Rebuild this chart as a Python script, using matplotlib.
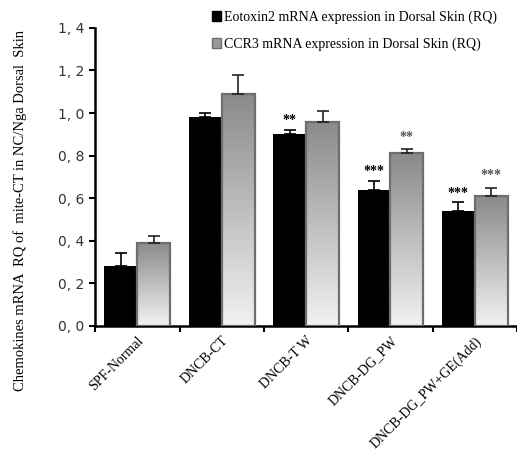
import numpy as np
import matplotlib.pyplot as plt
from matplotlib.patches import Patch
from matplotlib.colors import LinearSegmentedColormap

# data
groups = ['SPF-Normal', 'DNCB-CT', 'DNCB-T W', 'DNCB-DG_PW', 'DNCB-DG_PW+GE(Add)']
eotaxin = [0.28, 0.98, 0.90, 0.64, 0.54]
eotaxin_err = [0.06, 0.02, 0.02, 0.04, 0.04]
ccr3 = [0.39, 1.09, 0.96, 0.81, 0.61]
ccr3_err = [0.03, 0.09, 0.05, 0.02, 0.04]
eotaxin_sig = ['', '', '**', '***', '***']
ccr3_sig = ['', '', '', '**', '***']
yticks = [0.0, 0.2, 0.4, 0.6, 0.8, 1.0, 1.2, 1.4]

plt.rcParams['font.family'] = ['Liberation Serif', 'DejaVu Serif']

fig = plt.figure(figsize=(5.17, 4.57), dpi=100)
ax = fig.add_axes([0.184, 0.287, 0.816, 0.652])

x = np.arange(len(groups))
w = 0.39

b1 = ax.bar(x - w / 2, eotaxin, w, color='black', zorder=2)
ax.errorbar(x - w / 2, eotaxin, yerr=[np.zeros(len(x)), eotaxin_err], fmt='none',
            ecolor='black', elinewidth=1.2, capsize=4, capthick=1.2, zorder=3)

b2 = ax.bar(x + w / 2, ccr3, w, facecolor='none', edgecolor='#6e6e6e', linewidth=1.6, zorder=3)
ax.errorbar(x + w / 2, ccr3, yerr=[np.zeros(len(x)), ccr3_err], fmt='none',
            ecolor='#222222', elinewidth=1.2, capsize=4, capthick=1.2, zorder=3)

# vertical gradient inside each grey bar (dark at top, light at bottom)
cmap = LinearSegmentedColormap.from_list('g', ['#f2f2f2', '#8a8a8a'])
grad = np.linspace(0, 1, 256).reshape(-1, 1)
for rect in b2:
    x0, y0 = rect.get_x(), rect.get_y()
    im = ax.imshow(grad, cmap=cmap, aspect='auto', origin='lower',
                   extent=[x0, x0 + rect.get_width(), y0, y0 + rect.get_height()], zorder=2)
    im.set_clip_path(rect)

for i in range(len(groups)):
    if eotaxin_sig[i]:
        ax.annotate(eotaxin_sig[i], (x[i] - w / 2, eotaxin[i] + eotaxin_err[i]),
                    xytext=(0, 2), textcoords='offset points', ha='center', va='bottom',
                    fontsize=10, fontweight='bold', color='black')
    if ccr3_sig[i]:
        ax.annotate(ccr3_sig[i], (x[i] + w / 2, ccr3[i] + ccr3_err[i]),
                    xytext=(0, 4), textcoords='offset points', ha='center', va='bottom',
                    fontsize=10, fontweight='bold', color='#555555')

ax.set_xlim(-0.5, len(groups) - 0.5)
ax.set_ylim(0, 1.4)
ax.set_yticks(yticks)
ax.set_yticklabels([f'{v:.1f}'.replace('.', ', ') for v in yticks],
                   fontfamily='DejaVu Sans', fontsize=10, color='#333333')
ax.set_xticks(x)
ax.set_xticklabels(groups, rotation=45, ha='right', rotation_mode='anchor', fontsize=10)
ax.set_xticks(np.arange(len(groups) + 1) - 0.5, minor=True)
ax.tick_params(axis='x', which='major', length=0, pad=6)
ax.tick_params(axis='x', which='minor', length=4, width=1.5, direction='out')
ax.tick_params(axis='y', length=4, width=1.5, direction='out')

for s in ['top', 'right']:
    ax.spines[s].set_visible(False)
ax.spines['left'].set_linewidth(1.8)
ax.spines['bottom'].set_linewidth(1.8)

ax.set_ylabel('Chemokines mRNA  RQ of  mite-CT in NC/Nga Dorsal  Skin', fontsize=10.5)
ax.yaxis.set_label_coords(-0.162, 0.386)

handles = [Patch(facecolor='black', edgecolor='black'),
           Patch(facecolor='#9a9a9a', edgecolor='#6e6e6e')]
fig.legend(handles, ['Eotoxin2 mRNA expression in Dorsal Skin (RQ)',
                     'CCR3 mRNA expression in Dorsal Skin (RQ)'],
           loc='upper left', bbox_to_anchor=(0.385, 1.005), frameon=False, fontsize=10,
           handlelength=0.7, handleheight=0.7, handletextpad=0.2, labelspacing=1.0)

fig.savefig('out.png', dpi=100)
